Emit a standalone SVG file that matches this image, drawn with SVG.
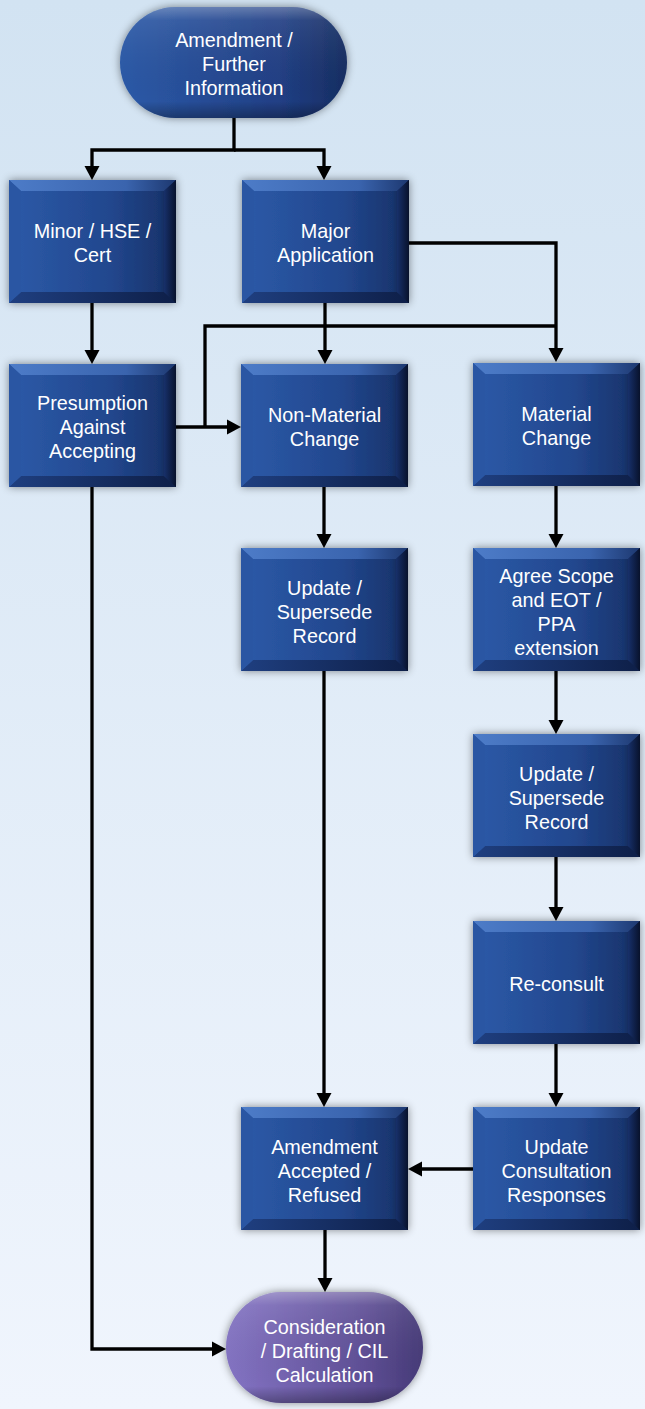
<svg xmlns="http://www.w3.org/2000/svg" xmlns:xlink="http://www.w3.org/1999/xlink" width="645" height="1409" viewBox="0 0 645 1409">
<defs>
<style>
.t{font-family:"Liberation Sans",Arial,sans-serif;font-size:19.8px;fill:#ffffff;text-anchor:middle}
.c{fill:none;stroke:#000;stroke-width:3.3;marker-end:url(#ah)}
.cn{fill:none;stroke:#000;stroke-width:3.3}
</style>
<linearGradient id="bg" x1="0" y1="0" x2="0" y2="1">
<stop offset="0" stop-color="#d2e3f2"/>
<stop offset="1" stop-color="#f0f5fd"/>
</linearGradient>
<linearGradient id="boxG" x1="0" y1="0" x2="1" y2="0">
<stop offset="0" stop-color="#2c5aa8"/>
<stop offset="0.6" stop-color="#22478e"/>
<stop offset="0.9" stop-color="#193670"/>
<stop offset="1" stop-color="#0c1a3c"/>
</linearGradient>
<linearGradient id="topB" x1="0" y1="0" x2="1" y2="0">
<stop offset="0" stop-color="#4d7cc8"/>
<stop offset="0.7" stop-color="#3a64ae"/>
<stop offset="1" stop-color="#1d3870"/>
</linearGradient>
<linearGradient id="botB" x1="0" y1="0" x2="1" y2="0">
<stop offset="0" stop-color="#1f3f80"/>
<stop offset="1" stop-color="#0e1f48"/>
</linearGradient>
<linearGradient id="rightB" x1="0" y1="0" x2="1" y2="0">
<stop offset="0" stop-color="#17306a"/>
<stop offset="1" stop-color="#08122c"/>
</linearGradient>
<linearGradient id="pillB" x1="0" y1="0" x2="1" y2="0">
<stop offset="0" stop-color="#2c5aa8"/>
<stop offset="0.7" stop-color="#213f85"/>
<stop offset="1" stop-color="#162d62"/>
</linearGradient>
<linearGradient id="pillP" x1="0" y1="0" x2="1" y2="0">
<stop offset="0" stop-color="#8474c4"/>
<stop offset="0.7" stop-color="#5f4f96"/>
<stop offset="1" stop-color="#463a78"/>
</linearGradient>
<linearGradient id="gloss" x1="0" y1="0" x2="0" y2="1">
<stop offset="0" stop-color="#ffffff" stop-opacity="0.3"/>
<stop offset="0.12" stop-color="#ffffff" stop-opacity="0.08"/>
<stop offset="0.85" stop-color="#000000" stop-opacity="0"/>
<stop offset="1" stop-color="#000000" stop-opacity="0.3"/>
</linearGradient>
<filter id="sh" x="-20%" y="-20%" width="140%" height="140%">
<feDropShadow dx="0" dy="0" stdDeviation="4" flood-color="#000" flood-opacity="0.45"/>
</filter>
<marker id="ah" markerUnits="userSpaceOnUse" markerWidth="15" markerHeight="16" refX="4" refY="7.5" orient="auto" viewBox="0 0 15 15">
<path d="M0,0 L14,7.5 L0,15 z" fill="#000"/>
</marker>
<g id="box">
<rect x="0" y="0" width="167" height="123" fill="url(#boxG)" filter="url(#sh)"/>
<polygon points="0,0 167,0 155,11 12,11" fill="url(#topB)"/>
<polygon points="0,123 167,123 155,112 12,112" fill="url(#botB)"/>
<polygon points="0,0 12,11 12,112 0,123" fill="#2a56a3"/>
<polygon points="167,0 155,11 155,112 167,123" fill="url(#rightB)"/>
</g>
</defs>
<rect x="0" y="0" width="645" height="1409" fill="url(#bg)"/>

<g id="connectors">
<path class="c" d="M234,118 V150 H92 V170"/>
<path class="c" d="M234,150 H324 V170"/>
<path class="c" d="M92,303 V354"/>
<path class="c" d="M325,303 V354"/>
<path class="c" d="M409,243 H556 V352"/>
<path class="cn" d="M205,427 V326 H556"/>
<path class="c" d="M176,427 H231"/>
<path class="c" d="M92,487 V1349 H216"/>
<path class="c" d="M324,487 V538"/>
<path class="c" d="M324,671 V1097"/>
<path class="c" d="M556,486 V538"/>
<path class="c" d="M556,671 V724"/>
<path class="c" d="M556,857 V911"/>
<path class="c" d="M556,1044 V1097"/>
<path class="c" d="M473,1169 H418"/>
<path class="c" d="M325,1230 V1282"/>
</g>

<g id="n-amendment-further">
<rect x="120" y="7" width="227" height="111" rx="55.5" fill="url(#pillB)" filter="url(#sh)"/>
<rect x="120" y="7" width="227" height="111" rx="55.5" fill="url(#gloss)"/>
<text class="t" x="234" y="47">Amendment /</text>
<text class="t" x="234" y="71">Further</text>
<text class="t" x="234" y="95">Information</text>
</g>

<g id="n-minor">
<use xlink:href="#box" x="9" y="180"/>
<text class="t" x="92.5" y="238">Minor / HSE /</text>
<text class="t" x="92.5" y="262">Cert</text>
</g>

<g id="n-major">
<use xlink:href="#box" x="242" y="180"/>
<text class="t" x="325.5" y="238">Major</text>
<text class="t" x="325.5" y="262">Application</text>
</g>

<g id="n-presumption">
<use xlink:href="#box" x="9" y="364"/>
<text class="t" x="92.5" y="410">Presumption</text>
<text class="t" x="92.5" y="434">Against</text>
<text class="t" x="92.5" y="458">Accepting</text>
</g>

<g id="n-nonmaterial">
<use xlink:href="#box" x="241" y="364"/>
<text class="t" x="324.5" y="422">Non-Material</text>
<text class="t" x="324.5" y="446">Change</text>
</g>

<g id="n-material">
<use xlink:href="#box" x="473" y="363"/>
<text class="t" x="556.5" y="421">Material</text>
<text class="t" x="556.5" y="445">Change</text>
</g>

<g id="n-update1">
<use xlink:href="#box" x="241" y="548"/>
<text class="t" x="324.5" y="595">Update /</text>
<text class="t" x="324.5" y="619">Supersede</text>
<text class="t" x="324.5" y="643">Record</text>
</g>

<g id="n-agree">
<use xlink:href="#box" x="473" y="548"/>
<text class="t" x="556.5" y="583">Agree Scope</text>
<text class="t" x="556.5" y="607">and EOT /</text>
<text class="t" x="556.5" y="631">PPA</text>
<text class="t" x="556.5" y="655">extension</text>
</g>

<g id="n-update2">
<use xlink:href="#box" x="473" y="734"/>
<text class="t" x="556.5" y="781">Update /</text>
<text class="t" x="556.5" y="805">Supersede</text>
<text class="t" x="556.5" y="829">Record</text>
</g>

<g id="n-reconsult">
<use xlink:href="#box" x="473" y="921"/>
<text class="t" x="556.5" y="991">Re-consult</text>
</g>

<g id="n-updcons">
<use xlink:href="#box" x="473" y="1107"/>
<text class="t" x="556.5" y="1154">Update</text>
<text class="t" x="556.5" y="1178">Consultation</text>
<text class="t" x="556.5" y="1202">Responses</text>
</g>

<g id="n-amend-accepted">
<use xlink:href="#box" x="241" y="1107"/>
<text class="t" x="324.5" y="1154">Amendment</text>
<text class="t" x="324.5" y="1178">Accepted /</text>
<text class="t" x="324.5" y="1202">Refused</text>
</g>

<g id="n-consideration">
<rect x="226" y="1292" width="197" height="111" rx="55.5" fill="url(#pillP)" filter="url(#sh)"/>
<rect x="226" y="1292" width="197" height="111" rx="55.5" fill="url(#gloss)"/>
<text class="t" x="324.5" y="1334">Consideration</text>
<text class="t" x="324.5" y="1358">/ Drafting / CIL</text>
<text class="t" x="324.5" y="1382">Calculation</text>
</g>
</svg>
